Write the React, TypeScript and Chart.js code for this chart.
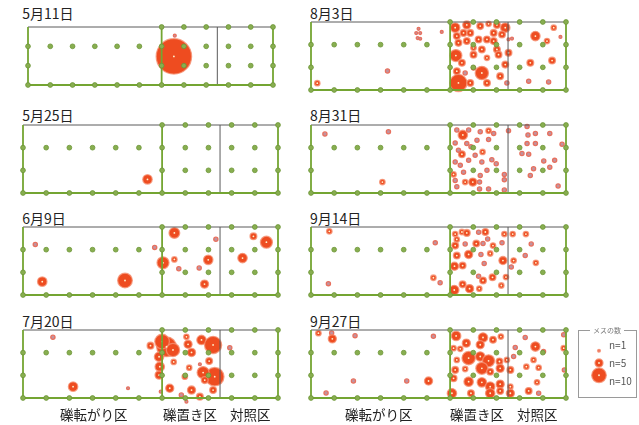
import React, { useEffect, useRef } from "react";
import { Chart, registerables } from "chart.js";
Chart.register(...registerables);

type B = [number, number, number]; // [column, row, n]

const TITLES_LEFT = ["5月11日", "5月25日", "6月9日", "7月20日"];
const TITLES_RIGHT = ["8月3日", "8月31日", "9月14日", "9月27日"];
const ZONES = ["礫転がり区", "礫置き区", "対照区"];
const LEGEND_N = [1, 5, 10];
const LEGEND_TITLE = "メスの数";

const GRID_ROW3 = [6, 7, 8, 9, 10, 11];
const GRID_ROW2 = [0, 1, 2, 3, 4, 5, 6, 7, 8, 9, 10, 11];
const GRID_ROW1 = [0, 6, 7, 8, 9, 10, 11];
const GRID_ROW0 = [0, 1, 2, 3, 4, 5, 6, 7, 8, 9, 10, 11];
const DIVIDER_X = 8.5;
const PLOT_X_MAX = 11;
const PLOT_Y_MAX = 3;
const PLOT_SPLIT_X = 6;

const may11: B[] = [[6.55, 1.48, 26], [6.59, 2.55, 1]];
const may25: B[] = [[5.37, 0.6, 6]];
const jun9: B[] = [
  [0.53, 2.23, 2], [0.83, 0.59, 6], [4.4, 0.64, 10], [5.68, 2.1, 2], [6.04, 1.42, 8],
  [6.53, 2.74, 7], [6.53, 1.57, 3], [6.72, 1.16, 2], [7.6, 1.19, 2], [7.99, 1.55, 6],
  [7.83, 0.48, 5], [8.32, 2.46, 2], [9.47, 1.63, 6], [9.94, 2.59, 4], [10.5, 2.33, 8],
];
const jul20: B[] = [
  [1.29, 2.68, 2], [2.16, 0.5, 6], [4.53, 0.43, 1], [5.5, 2.31, 4],
  [6.19, 2.26, 14], [6.0, 2.49, 10], [6.47, 2.12, 9], [5.87, 1.82, 6], [5.9, 1.38, 6], [5.87, 1.01, 5],
  [7.05, 2.7, 3], [7.12, 2.37, 5], [7.27, 2.01, 5], [6.5, 1.59, 3], [7.17, 1.34, 3], [6.98, 0.94, 3],
  [6.33, 0.43, 5], [7.27, 0.35, 5], [6.83, 0.13, 2], [7.05, -0.16, 1], [7.7, 2.56, 6], [8.2, 2.34, 12],
  [8.03, 1.63, 4], [7.63, 1.49, 1], [8.27, 0.94, 13], [7.77, 1.12, 8], [8.2, 0.35, 4], [7.63, 0.06, 4],
  [8.92, 2.22, 2], [5.94, 0.28, 1], [7.84, 0.79, 4],
];
const aug3: B[] = [
  [4.64, 2.7, 1], [4.54, 2.51, 1], [4.71, 2.51, 1], [4.6, 2.29, 1], [4.71, 2.26, 1], [5.64, 2.56, 1],
  [3.3, 0.84, 2], [0.27, 0.3, 3],
  [6.22, 2.75, 6], [6.72, 2.87, 5], [6.29, 2.38, 4], [6.58, 2.52, 4], [6.87, 2.52, 4], [7.3, 2.82, 4],
  [7.66, 2.92, 3], [8.02, 2.87, 4], [8.38, 2.75, 6], [8.24, 2.45, 4], [7.88, 2.52, 4], [7.59, 2.23, 4],
  [7.23, 2.23, 4], [6.72, 2.16, 4], [6.36, 2.08, 4], [7.01, 1.86, 3], [7.37, 1.79, 4], [7.88, 2.16, 4],
  [8.02, 1.79, 4], [8.52, 2.23, 1], [8.67, 2.27, 1], [6.25, 1.52, 8], [6.51, 1.2, 4], [7.01, 1.56, 4],
  [7.59, 1.42, 3], [8.09, 1.56, 4], [8.52, 1.64, 4], [8.38, 1.12, 4], [6.29, 0.83, 4], [6.65, 0.75, 2],
  [7.37, 0.75, 9], [7.01, 0.97, 2], [6.36, 0.31, 12], [6.87, 0.31, 4], [7.59, 0.31, 4], [8.16, 0.61, 4],
  [8.45, 0.31, 2],
  [9.68, 2.38, 6], [10.47, 2.75, 3], [10.18, 2.16, 3], [10.76, 2.34, 1], [9.46, 1.2, 4], [10.4, 1.3, 4],
  [9.39, 0.39, 2], [10.25, 0.35, 2],
];
const aug31: B[] = [
  [0.6, 2.6, 2], [3.34, 2.7, 2], [3.08, 0.48, 3],
  [6.55, 2.56, 6], [6.29, 2.78, 2], [6.8, 2.78, 2], [7.3, 2.7, 2], [7.66, 2.75, 3], [7.88, 2.63, 2],
  [8.52, 2.75, 2], [6.22, 2.21, 2], [6.72, 2.18, 2], [7.16, 2.33, 2], [7.66, 2.36, 2], [6.51, 1.71, 4],
  [6.36, 1.89, 2], [6.9, 2.04, 2], [7.4, 1.81, 3], [7.08, 1.66, 2], [6.8, 1.44, 2], [6.22, 1.37, 2],
  [6.44, 1.22, 2], [7.37, 1.37, 2], [7.8, 1.47, 2], [7.99, 1.29, 2], [6.15, 0.82, 3], [6.58, 0.92, 2],
  [6.22, 0.55, 2], [6.65, 0.48, 3], [6.98, 0.48, 5], [7.3, 0.77, 2], [7.27, 0.48, 2], [6.29, 0.28, 2],
  [7.27, 0.18, 2], [7.66, 0.18, 2], [8.34, 0.82, 2], [8.34, 0.58, 2], [8.34, 0.13, 2], [7.59, 1.0, 2],
  [9.32, 2.93, 2], [9.36, 2.56, 2], [9.68, 2.63, 2], [10.3, 2.63, 2], [9.32, 2.18, 2], [9.68, 2.18, 2],
  [10.83, 2.15, 2], [9.1, 1.74, 2], [9.39, 1.71, 2], [10.04, 1.41, 2], [10.51, 1.44, 2], [9.6, 1.07, 2],
  [10.3, 1.14, 2], [9.46, 0.77, 2], [10.66, 0.31, 2],
];
const sep14: B[] = [
  [0.79, 2.81, 3], [5.36, 2.3, 2], [5.28, 0.76, 3], [5.57, 0.54, 2], [0.75, 0.5, 2],
  [6.22, 2.69, 3], [6.51, 2.78, 3], [6.72, 2.74, 4], [7.23, 2.77, 2], [7.52, 2.78, 4], [7.62, 2.47, 2],
  [6.29, 2.45, 3], [6.22, 2.18, 4], [6.65, 2.25, 2], [7.13, 2.27, 4], [7.42, 2.27, 2], [7.85, 2.18, 3],
  [8.24, 2.3, 2], [6.29, 1.74, 4], [6.8, 1.79, 5], [7.33, 1.79, 2], [7.73, 1.83, 3], [8.28, 1.52, 5],
  [7.47, 1.39, 2], [6.19, 1.27, 5], [6.54, 1.3, 4], [8.74, 1.52, 3], [8.64, 1.24, 2], [7.23, 0.83, 2],
  [7.42, 0.64, 4], [7.83, 0.78, 4], [8.41, 0.79, 3], [8.21, 0.42, 3], [6.54, 0.47, 4], [6.18, 0.22, 6],
  [6.84, 0.28, 5], [7.26, 0.28, 3],
  [8.34, 2.69, 3], [8.7, 2.69, 3], [9.27, 2.69, 3], [9.5, 2.25, 2], [9.24, 1.74, 2], [9.7, 1.42, 3],
];
const sep27: B[] = [
  [0.32, 2.86, 3], [0.89, 2.87, 2], [0.92, 2.61, 5], [1.9, 2.75, 2], [5.28, 2.72, 2], [1.83, 0.75, 2],
  [4.13, 0.75, 2], [5.07, 0.75, 5], [0.65, 0.22, 2],
  [6.26, 2.74, 6], [6.7, 2.42, 5], [6.15, 2.2, 3], [6.44, 2.17, 3], [7.42, 2.67, 6], [7.85, 2.57, 4],
  [8.19, 2.71, 3], [7.3, 2.35, 5], [6.8, 1.76, 9], [7.3, 1.83, 6], [7.66, 1.64, 8], [6.29, 1.68, 3],
  [8.13, 1.61, 4], [8.45, 1.68, 3], [6.22, 1.24, 4], [6.65, 1.28, 3], [7.37, 1.31, 8], [7.73, 1.16, 4],
  [8.16, 1.31, 5], [8.6, 1.24, 4], [6.15, 0.87, 4], [6.8, 0.72, 6], [7.37, 0.69, 6], [7.73, 0.5, 6],
  [8.16, 0.61, 5], [8.6, 0.5, 3], [6.08, 0.21, 6], [6.9, 0.21, 4], [7.73, 0.21, 6], [8.16, 0.31, 4],
  [8.6, 0.21, 5],
  [9.68, 2.27, 6], [9.24, 2.67, 2], [10.03, 2.05, 2], [8.74, 1.83, 2], [9.6, 1.68, 3], [9.82, 1.34, 3],
  [9.29, 1.38, 3], [9.75, 0.69, 3], [9.39, 0.31, 4], [9.82, 0.21, 2], [10.9, 2.79, 2], [10.9, 2.2, 3],
  [10.93, 1.24, 2], [8.81, 2.23, 2],
];

const LEFT_DATA = [may11, may25, jun9, jul20];
const RIGHT_DATA = [aug3, aug31, sep14, sep27];

// layout
const COL_LEFT_X = 23.3;
const COL_RIGHT_X = 311;
const PANEL_W = 255;
const PANEL_H = 68;
const PANEL_TOPS = [22.3, 124.6, 227.3, 330];
const PAD = 14;
const FONT = "'Noto Sans CJK JP', 'Noto Sans', sans-serif";

const GREEN = "#74A532";
const GRAY = "#5a5a5a";
const BUBBLE_BIG = "#EE4C20";
const BUBBLE_SMALL = "rgba(185,135,150,0.9)";
const RIM_BIG = "rgba(245,145,115,0.8)";
const RIM_SMALL = "#E8705E";
const rad = (n: number) => 0.65 * n + 0.8;

function Panel({ data, left, top }: { data: B[]; left: number; top: number }) {
  const ref = useRef<HTMLCanvasElement>(null);
  useEffect(() => {
    const grid = [
      ...GRID_ROW3.map((x) => ({ x, y: 3 })),
      ...GRID_ROW2.map((x) => ({ x, y: 2 })),
      ...GRID_ROW1.map((x) => ({ x, y: 1 })),
      ...GRID_ROW0.map((x) => ({ x, y: 0 })),
    ];
    const seg = (pts: { x: number; y: number }[], color: string, w: number, order: number) => ({
      type: "line" as const,
      data: pts,
      borderColor: color,
      borderWidth: w,
      pointRadius: 0,
      fill: false,
      tension: 0,
      order,
      clip: false as any,
    });
    const chart = new Chart(ref.current!, {
      type: "bubble",
      data: {
        datasets: [
          {
            type: "scatter",
            data: grid,
            pointRadius: 2.4,
            pointBackgroundColor: "#88AE50",
            pointBorderColor: "#6C9636",
            pointBorderWidth: 0.8,
            order: 0,
            clip: false as any,
          } as any,
          seg([{ x: 0, y: 0 }, { x: 0, y: PLOT_Y_MAX }], GREEN, 1.8, 1),
          seg([{ x: 0, y: 0 }, { x: PLOT_X_MAX, y: 0 }], GREEN, 1.8, 1),
          seg([{ x: PLOT_X_MAX, y: 0 }, { x: PLOT_X_MAX, y: PLOT_Y_MAX }], GREEN, 1.8, 1),
          seg([{ x: PLOT_SPLIT_X, y: 0 }, { x: PLOT_SPLIT_X, y: PLOT_Y_MAX }], GREEN, 1.8, 1),
          seg([{ x: 0, y: PLOT_Y_MAX }, { x: PLOT_X_MAX, y: PLOT_Y_MAX }], GRAY, 1, 1),
          seg([{ x: DIVIDER_X, y: 0 }, { x: DIVIDER_X, y: PLOT_Y_MAX }], GRAY, 1, 1),
          {
            type: "scatter",
            data: data.filter((b) => b[2] >= 3).map(([x, y]) => ({ x, y })),
            pointRadius: 0.9,
            pointBackgroundColor: "#FFF4D0",
            pointBorderWidth: 0,
            order: 2,
            clip: false as any,
          } as any,
          {
            type: "bubble",
            data: data.map(([x, y, n]) => ({ x, y, r: rad(n) })),
            backgroundColor: data.map((b) => (b[2] <= 2 ? BUBBLE_SMALL : BUBBLE_BIG)),
            borderColor: data.map((b) => (b[2] <= 2 ? RIM_SMALL : RIM_BIG)),
            borderWidth: 1.3,
            order: 3,
            clip: false as any,
          } as any,
        ],
      },
      options: {
        responsive: false,
        animation: false,
        events: [],
        layout: { padding: PAD },
        plugins: { legend: { display: false }, tooltip: { enabled: false } },
        scales: {
          x: { type: "linear", min: 0, max: PLOT_X_MAX, display: false },
          y: { type: "linear", min: 0, max: PLOT_Y_MAX, display: false },
        },
      },
    });
    return () => chart.destroy();
  }, [data]);
  return (
    <canvas
      ref={ref}
      width={PANEL_W + 2 * PAD}
      height={PANEL_H + 2 * PAD}
      style={{ position: "absolute", left: left - PAD, top: top - PAD, width: PANEL_W + 2 * PAD, height: PANEL_H + 2 * PAD }}
    />
  );
}

const LEG_TOP = 336;
const LEG_H = 54;
const LEG_ROW = LEG_H / 3;

function Legend() {
  const ref = useRef<HTMLCanvasElement>(null);
  useEffect(() => {
    const chart = new Chart(ref.current!, {
      type: "bubble",
      data: {
        datasets: [
          {
            type: "scatter",
            data: LEGEND_N.map((n, i) => ({ n, i })).filter((d) => d.n >= 3).map((d) => ({ x: 0, y: d.i })),
            pointRadius: 0.9,
            pointBackgroundColor: "#FFF4D0",
            pointBorderWidth: 0,
            order: 0,
            clip: false as any,
          } as any,
          {
            type: "bubble",
            data: LEGEND_N.map((n, i) => ({ x: 0, y: i, r: rad(n) })),
            backgroundColor: LEGEND_N.map((n) => (n <= 2 ? RIM_SMALL : BUBBLE_BIG)),
            borderColor: LEGEND_N.map(() => RIM_BIG),
            borderWidth: 1.3,
            order: 1,
            clip: false as any,
          } as any,
        ],
      },
      options: {
        responsive: false,
        animation: false,
        events: [],
        layout: { padding: 0 },
        plugins: { legend: { display: false }, tooltip: { enabled: false } },
        scales: {
          x: { type: "linear", min: -1, max: 1, display: false },
          y: { type: "linear", min: -0.5, max: LEGEND_N.length - 0.5, reverse: true, display: false },
        },
      },
    });
    return () => chart.destroy();
  }, []);
  return (
    <>
      <div
        style={{
          position: "absolute",
          left: 578,
          top: 330,
          width: 59,
          height: 68,
          border: "1px solid #9a9a9a",
          boxSizing: "border-box",
        }}
      />
      <div
        style={{
          position: "absolute",
          left: 590,
          top: 326,
          width: 34,
          textAlign: "center",
          fontSize: 7,
          lineHeight: "8px",
          color: "#777",
          background: "#fff",
          fontFamily: FONT,
        }}
      >
        {LEGEND_TITLE}
      </div>
      <canvas
        ref={ref}
        width={18}
        height={LEG_H}
        style={{ position: "absolute", left: 590, top: LEG_TOP, width: 18, height: LEG_H }}
      />
      {LEGEND_N.map((n, i) => (
        <div
          key={n}
          style={{
            position: "absolute",
            left: 609,
            top: LEG_TOP + LEG_ROW * (i + 0.5) - 6,
            fontFamily: FONT,
            fontSize: 10,
            lineHeight: "12px",
            color: "#555",
            whiteSpace: "nowrap",
          }}
        >
          {`n=${n}`}
        </div>
      ))}
    </>
  );
}

const textStyle = (left: number, top: number): React.CSSProperties => ({
  position: "absolute",
  left,
  top,
  fontFamily: FONT,
  fontSize: 14,
  lineHeight: "14px",
  color: "#222",
  whiteSpace: "nowrap",
});

const ZONE_LEFT_X = [60, 163, 230];
const ZONE_RIGHT_X = [345, 450, 517];
const ZONE_TOP = 407;

export default function App() {
  return (
    <div style={{ position: "absolute", left: 0, top: 0, width: 639, height: 425, background: "#fff", overflow: "hidden" }}>
      {LEFT_DATA.map((d, i) => (
        <React.Fragment key={"l" + i}>
          <div style={textStyle(COL_LEFT_X - 1, PANEL_TOPS[i] - 16.3)}>{TITLES_LEFT[i]}</div>
          <Panel data={d} left={COL_LEFT_X} top={PANEL_TOPS[i]} />
        </React.Fragment>
      ))}
      {RIGHT_DATA.map((d, i) => (
        <React.Fragment key={"r" + i}>
          <div style={textStyle(COL_RIGHT_X - 1, PANEL_TOPS[i] - 16.3)}>{TITLES_RIGHT[i]}</div>
          <Panel data={d} left={COL_RIGHT_X} top={PANEL_TOPS[i]} />
        </React.Fragment>
      ))}
      {ZONES.map((z, i) => (
        <div key={"zl" + i} style={{ ...textStyle(ZONE_LEFT_X[i], ZONE_TOP), fontSize: 13.5 }}>{z}</div>
      ))}
      {ZONES.map((z, i) => (
        <div key={"zr" + i} style={{ ...textStyle(ZONE_RIGHT_X[i], ZONE_TOP), fontSize: 13.5 }}>{z}</div>
      ))}
      <Legend />
    </div>
  );
}
